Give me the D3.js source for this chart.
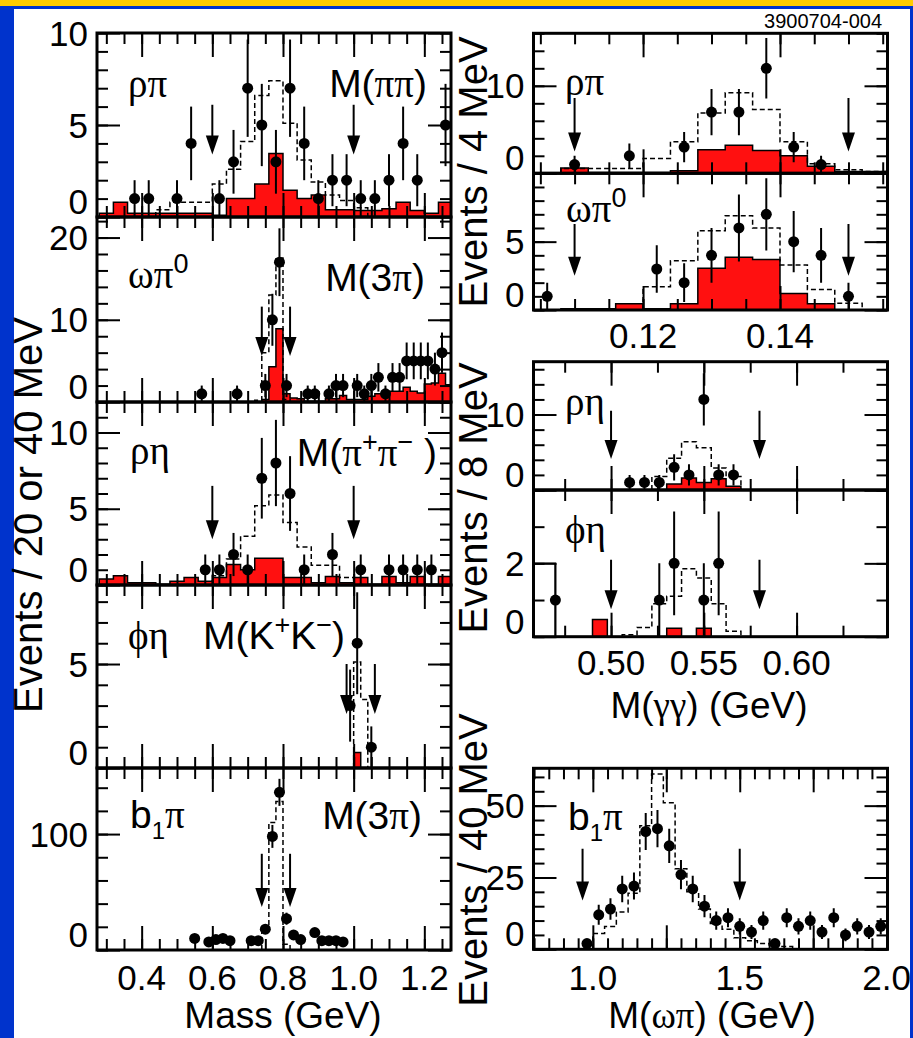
<!DOCTYPE html>
<html>
<head>
<meta charset="utf-8">
<script src="https://cdn.jsdelivr.net/npm/d3@7"></script>
<style>
body { margin: 0; background: #0033cc; }
svg { display: block; }
text { font-family: "Liberation Sans", Arial, sans-serif; fill: #000; }
</style>
</head>
<body>
<svg id="chart" width="913" height="1038"></svg>
<script>
// ---------- left column: resonance mass, 20 or 40 MeV bins ----------
// rho pi, M(pi pi)
const rhoPiX = [0.38,0.42,0.50,0.54,0.62,0.66,0.70,0.74,0.78,0.82,0.86,0.90,0.94,0.98,1.02,1.06,1.10,1.14,1.18,1.26]
const rhoPiN = [1,1,1,4,1,3,7,5,3,7,4,1,2,2,1,1,2,4,2,5]
const rhoPiRed = [0.2,0.8,0.2,0.2,0.2,0.2,0.2,0.2,0.1,1.0,1.0,1.8,3.45,1.45,1.0,1.2,0.4,0.4,0.35,0.35,0.45,0.8,0.35,0.2,0.8] // from 0.28, 40 MeV
const rhoPiMC = [0.4,0.8,0.8,0.8,1.8,2.6,4.1,6.6,7.4,5.1,3.1,1.9,1.2,0.9,0.5] // from 0.44, 40 MeV
const rhoPiCuts = [0.60, 1.00]

// omega pi0, M(3 pi)
const omegaPiX = [0.57,0.67,0.75,0.77,0.79,0.81,0.87,0.89,0.93,0.95,0.97,1.01,1.03,1.05,1.07,1.09,1.11,1.13,1.15,1.17,1.19,1.21,1.23,1.25]
const omegaPiN = [1,1,2,10,17,2,1,1,1,2,2,2,1,2,3,1,3,3,5,5,5,5,4,6]
const omegaPiRed = [0.3,4.3,8.9,1.0,0.5,0.4,0.1,0.1,0.1,0.4,0.4,0.8,0.3,0.3,0.3,0.7,1.0,1.3,1.3,1.3,1.8,1.3,1.1,2.2,2.3,3.5,2.1] // from 0.74, 20 MeV
const omegaPiMC = [0.2,6,13,17.5,0.3] // from 0.72, 20 MeV
const omegaPiCuts = [0.74, 0.82]

// rho eta, M(pi+ pi-)
const rhoEtaX = [0.58,0.62,0.66,0.70,0.74,0.78,0.82,0.86,0.94,1.02,1.10,1.14,1.18,1.22]
const rhoEtaN = [1,1,2,1,7,8,6,1,2,1,1,1,1,1]
const rhoEtaRed = [0.4,0.6,0.15,0.15,0.05,0.25,0.5,0.25,0.5,1.35,1.0,1.75,1.75,0.5,0.5,0.15,0.55,0.15,0.5,0.05,0.55,0.15,0.55,0.05,0.55] // from 0.28
const rhoEtaMC = [0.6,1.7,3.2,5.2,5.9,4.1,2.5,1.3,1.3,0.5] // from 0.60
const rhoEtaCuts = [0.60, 1.00]

// phi eta, M(K+ K-)
const phiEtaX = [0.99, 1.01, 1.05]
const phiEtaN = [3, 6, 1]
const phiEtaRed = [0.75] // from 1.00, 20 MeV
const phiEtaMC = [5.1, 3.3] // from 1.00, 20 MeV
const phiEtaCuts = [0.98, 1.06]

// b1 pi, M(3 pi)
const b1PiX = [0.55,0.59,0.61,0.63,0.65,0.71,0.73,0.75,0.77,0.79,0.81,0.83,0.85,0.89,0.91,0.93,0.95,0.97]
const b1PiN = [10,7,9,10,8,8,8,18,98,136,27,13,9,15,8,8,8,7]
const b1PiMC = [20,110,128,5] // from 0.74, 20 MeV
const b1PiCuts = [0.74, 0.82]

// ---------- right column: M(gamma gamma) and M(omega pi) ----------
const rhoPiGgX = [0.110,0.118,0.126,0.130,0.134,0.138,0.142,0.146]
const rhoPiGgN = [1,2,3,7,7,12,3,1]
const rhoPiGgRed = [0,0.6,0.1,0.1,0.1,0.3,2.7,3.2,2.6,2.0,0.8,0.2,0.2] // from 0.104, 4 MeV
const rhoPiGgMC = [0.55,0.55,0.55,1.7,3.6,6.9,9.2,7.3,3.6,1.1,0.4,0.2] // from 0.108
const pi0Cuts = [0.110, 0.150]

const omegaPiGgX = [0.106,0.122,0.126,0.130,0.134,0.138,0.142,0.146,0.150]
const omegaPiGgN = [1,3,2,4,6,7,5,4,1]
const omegaPiGgRed = [0,0.1,0.1,0.45,0.1,0.45,3.05,3.85,3.7,1.2,0.45,0,0] // from 0.104
const omegaPiGgMC = [1.7,3.6,5.8,6.9,6.0,3.3,1.5,0.5] // from 0.120

const rhoEtaGgX = [0.510,0.518,0.526,0.534,0.542,0.550,0.558,0.566]
const rhoEtaGgN = [1,1,1,3,2,12,2,2]
const rhoEtaGgRed = [0.8,1.6,1.0,1.5,0.5] // from 0.530, 8 MeV
const rhoEtaGgMC = [1.8,4.2,6.4,5.6,2.9,1.8] // from 0.522
const etaCuts = [0.50, 0.58]

const phiEtaGgX = [0.470,0.526,0.534,0.550,0.558]
const phiEtaGgN = [1,1,2,1,2]
const phiEtaGgRed = [0.47,0,0,0,0,0.23,0,0.23] // from 0.490
const phiEtaGgMC = [0.05,0.25,0.9,1.1,1.85,1.6,0.9,0.15] // from 0.506
const phiEtaGgSide = [2] // 0.450 - 0.470

const b1OmPiX = [0.98,1.02,1.06,1.10,1.14,1.18,1.22,1.26,1.30,1.34,1.38,1.42,1.46,1.50,1.54,1.58,1.62,1.66,1.70,1.74,1.78,1.82,1.86,1.90,1.94,1.98]
const b1OmPiN = [2,12,14,21,22,41,42,36,26,21,15,10,11,8,6,10,2,11,8,10,6,11,5,8,6,8]
const b1OmPiMC = [5.5,7.9,13,19.5,43,61,51,28,20,14,9,7,4,3,2,1.5,1] // from 1.00, 40 MeV
const b1OmPiCuts = [0.965, 1.50]

// ---------- drawing ----------
const svg = d3.select("#chart")
const greek = "'Liberation Serif', 'DejaVu Serif', serif"

svg.append("rect").attr("width", 913).attr("height", 1038).attr("fill", "#0033cc")
svg.append("rect").attr("width", 913).attr("height", 6).attr("fill", "#ffcc00")
svg.append("rect").attr("x", 14).attr("y", 9).attr("width", 896).attr("height", 1029).attr("fill", "#fff")

let clipN = 0

function tickVals(domain, step) {
    const a = Math.ceil(domain[0] / step - 1e-6), b = Math.floor(domain[1] / step + 1e-6)
    return d3.range(a, b + 1).map(i => +(i * step).toFixed(6))
}

function stepLine(lo, w, vals) {
    const pts = [[lo, 0]]
    vals.forEach((v, i) => pts.push([lo + i * w, v], [lo + (i + 1) * w, v]))
    pts.push([lo + vals.length * w, 0])
    return pts
}

function richText(xp, yp, parts, anchor, size) {
    const t = svg.append("text").attr("x", xp).attr("y", yp)
        .attr("font-size", size || 39).attr("text-anchor", anchor || "start")
    let shift = 0
    parts.forEach(([s, kind]) => {
        const ts = t.append("tspan").text(s)
        let target = 0
        if (kind === "sup") { target = -15; ts.attr("font-size", 27) }
        if (kind === "sub") { target = 11; ts.attr("font-size", 24) }
        if (kind === "g") ts.attr("font-family", greek)
        ts.attr("dy", target - shift)
        shift = target
    })
}

function addTicks(axis, transform, vals, len) {
    svg.append("g").attr("transform", transform)
        .call(axis.tickValues(vals).tickSize(-len).tickFormat(""))
        .call(s => s.select(".domain").remove())
        .selectAll("line").attr("stroke", "#000").attr("stroke-width", 2)
}

function drawPanel(p) {
    const x = d3.scaleLinear().domain(p.xDomain).range([p.left, p.right])
    const y = d3.scaleLinear().domain([0, p.yMax]).range([p.bottom, p.top])
    const line = d3.line().x(d => x(d[0])).y(d => y(d[1]))

    const id = "clip" + clipN++
    svg.append("clipPath").attr("id", id).append("rect")
        .attr("x", p.left).attr("y", p.top).attr("width", p.right - p.left).attr("height", p.bottom - p.top)
    const g = svg.append("g").attr("clip-path", `url(#${id})`)

    if (p.red) g.append("path").attr("d", line(stepLine(...p.red)))
        .attr("fill", "#ff1010").attr("stroke", "#000").attr("stroke-width", 1.5)
    if (p.side) g.append("path").attr("d", line(stepLine(...p.side)))
        .attr("fill", "none").attr("stroke", "#000").attr("stroke-width", 1.5)
    if (p.mc) g.append("path").attr("d", line(stepLine(...p.mc)))
        .attr("fill", "none").attr("stroke", "#000").attr("stroke-width", 1.5).attr("stroke-dasharray", "5,3")

    const pts = d3.zip(p.px, p.pn)
    g.selectAll(null).data(pts).join("line")
        .attr("x1", d => x(d[0])).attr("x2", d => x(d[0]))
        .attr("y1", d => y(d[1] - Math.sqrt(d[1]))).attr("y2", d => y(d[1] + Math.sqrt(d[1])))
        .attr("stroke", "#000").attr("stroke-width", 2)
    g.selectAll(null).data(pts).join("circle")
        .attr("cx", d => x(d[0])).attr("cy", d => y(d[1])).attr("r", 5.5).attr("fill", "#000")

    p.cuts.forEach(c => {
        const cx = x(c), tip = y(p.arrow[1])
        g.append("line").attr("x1", cx).attr("x2", cx).attr("y1", y(p.arrow[0])).attr("y2", tip - 4)
            .attr("stroke", "#000").attr("stroke-width", 2)
        g.append("path").attr("d", `M${cx - 6.5},${tip - 19}L${cx + 6.5},${tip - 19}L${cx},${tip}Z`).attr("fill", "#000")
    })

    // inward ticks on all four sides
    const xMinor = tickVals(p.xDomain, p.xTicks[0]), xMajor = tickVals(p.xDomain, p.xTicks[1])
    const yMinor = tickVals([0, p.yMax], p.yTicks[0]), yMajor = tickVals([0, p.yMax], p.yTicks[1])
    addTicks(d3.axisBottom(x), `translate(0,${p.bottom})`, xMinor, 11)
    addTicks(d3.axisBottom(x), `translate(0,${p.bottom})`, xMajor, 24)
    addTicks(d3.axisTop(x), `translate(0,${p.top})`, xMinor, 11)
    addTicks(d3.axisTop(x), `translate(0,${p.top})`, xMajor, 24)
    addTicks(d3.axisLeft(y), `translate(${p.left},0)`, yMinor, 11)
    addTicks(d3.axisLeft(y), `translate(${p.left},0)`, yMajor, 23)
    addTicks(d3.axisRight(y), `translate(${p.right},0)`, yMinor, 11)
    addTicks(d3.axisRight(y), `translate(${p.right},0)`, yMajor, 23)

    svg.append("rect").attr("x", p.left).attr("y", p.top)
        .attr("width", p.right - p.left).attr("height", p.bottom - p.top)
        .attr("fill", "none").attr("stroke", "#000").attr("stroke-width", 3)

    p.yLabels.forEach(v => {
        svg.append("text").attr("x", p.left - 9).attr("y", v === 0 ? p.bottom - 3 : y(v) + 12.5)
            .attr("text-anchor", "end").attr("font-size", 35).text(v)
    })
    if (p.xLabels) p.xLabels.forEach(v => {
        svg.append("text").attr("x", x(v)).attr("y", p.xLabelY)
            .attr("text-anchor", "middle").attr("font-size", 35).text(p.xFormat(v))
    })
    p.names.forEach(n => richText(n[0], n[1], n[2], n[3]))
}

const leftDomain = [0.2736, 1.2755]
const pionDomain = [0.104, 0.1557]
const etaDomain = [0.4582, 0.649]
const b1Domain = [0.798, 2.003]
const L = { xDomain: leftDomain, left: 97, right: 451, xTicks: [0.05, 0.2] }
const Rpi = { xDomain: pionDomain, left: 533.5, right: 887.5, xTicks: [0.005, 0.02] }
const Reta = { xDomain: etaDomain, left: 533.5, right: 887.5, xTicks: [0.025, 0.05] }

const panels = [
    { ...L, top: 33, bottom: 217, yMax: 10, yTicks: [1, 5], yLabels: [0, 5, 10],
      px: rhoPiX, pn: rhoPiN, red: [0.28, 0.04, rhoPiRed], mc: [0.44, 0.04, rhoPiMC],
      cuts: rhoPiCuts, arrow: [6.1, 3.4],
      names: [[128, 97, [["ρπ", "g"]]], [427, 97, [["M(", ""], ["ππ", "g"], [")", ""]], "end"]] },
    { ...L, top: 217, bottom: 402, yMax: 22.5, yTicks: [2, 10], yLabels: [0, 10, 20],
      px: omegaPiX, pn: omegaPiN, red: [0.74, 0.02, omegaPiRed], mc: [0.72, 0.02, omegaPiMC],
      cuts: omegaPiCuts, arrow: [11.6, 5.6],
      names: [[128, 288, [["ωπ", "g"], ["0", "sup"]]], [425, 291, [["M(3", ""], ["π", "g"], [")", ""]], "end"]] },
    { ...L, top: 402, bottom: 585, yMax: 12, yTicks: [1, 5], yLabels: [0, 5, 10],
      px: rhoEtaX, pn: rhoEtaN, red: [0.28, 0.04, rhoEtaRed], mc: [0.60, 0.04, rhoEtaMC],
      cuts: rhoEtaCuts, arrow: [6.5, 3.0],
      names: [[130, 464, [["ρη", "g"]]], [437, 466, [["M(", ""], ["π", "g"], ["+", "sup"], ["π", "g"], ["−", "sup"], [" )", ""]], "end"]] },
    { ...L, top: 585, bottom: 768, yMax: 8.8, yTicks: [1, 5], yLabels: [0, 5],
      px: phiEtaX, pn: phiEtaN, red: [1.00, 0.02, phiEtaRed], mc: [1.00, 0.02, phiEtaMC],
      cuts: phiEtaCuts, arrow: [5.0, 2.6],
      names: [[128, 649, [["ϕη", "g"]]], [203, 649, [["M(K", ""], ["+", "sup"], ["K", ""], ["−", "sup"], [")", ""]]]] },
    { ...L, top: 768, bottom: 950, yMax: 157, yTicks: [20, 100], yLabels: [0, 100],
      px: b1PiX, pn: b1PiN, mc: [0.74, 0.02, b1PiMC],
      cuts: b1PiCuts, arrow: [83, 37],
      xLabels: [0.4, 0.6, 0.8, 1.0, 1.2], xLabelY: 990, xFormat: d3.format(".1f"),
      names: [[130, 828, [["b", ""], ["1", "sub"], ["π", "g"]]], [422, 829, [["M(3", ""], ["π", "g"], [")", ""]], "end"]] },

    { ...Rpi, top: 33.3, bottom: 173.3, yMax: 16, yTicks: [2, 10], yLabels: [0, 10],
      px: rhoPiGgX, pn: rhoPiGgN, red: [0.104, 0.004, rhoPiGgRed], mc: [0.108, 0.004, rhoPiGgMC],
      cuts: pi0Cuts, arrow: [8.6, 2.5],
      names: [[565, 95, [["ρπ", "g"]]]] },
    { ...Rpi, top: 173.3, bottom: 310, yMax: 10, yTicks: [1, 5], yLabels: [0, 5],
      px: omegaPiGgX, pn: omegaPiGgN, red: [0.104, 0.004, omegaPiGgRed], mc: [0.120, 0.004, omegaPiGgMC],
      cuts: pi0Cuts, arrow: [6.3, 2.5],
      xLabels: [0.12, 0.14], xLabelY: 348, xFormat: d3.format(".2f"),
      names: [[566, 222, [["ωπ", "g"], ["0", "sup"]]]] },
    { ...Reta, top: 361.7, bottom: 490, yMax: 17, yTicks: [2, 10], yLabels: [0, 10],
      px: rhoEtaGgX, pn: rhoEtaGgN, red: [0.530, 0.008, rhoEtaGgRed], mc: [0.522, 0.008, rhoEtaGgMC],
      cuts: etaCuts, arrow: [10.5, 4.1],
      names: [[565, 415, [["ρη", "g"]]]] },
    { ...Reta, top: 490, bottom: 636.7, yMax: 4, yTicks: [1, 2], yLabels: [0, 2],
      px: phiEtaGgX, pn: phiEtaGgN, red: [0.490, 0.008, phiEtaGgRed], mc: [0.506, 0.008, phiEtaGgMC],
      side: [0.450, 0.020, phiEtaGgSide],
      cuts: etaCuts, arrow: [2.1, 0.75],
      xLabels: [0.50, 0.55, 0.60], xLabelY: 675, xFormat: d3.format(".2f"),
      names: [[565, 543, [["ϕη", "g"]]]] },
    { xDomain: b1Domain, left: 533.5, right: 887.5, xTicks: [0.05, 0.25],
      top: 768.3, bottom: 949.3, yMax: 63, yTicks: [5, 25], yLabels: [0, 25, 50],
      px: b1OmPiX, pn: b1OmPiN, mc: [1.00, 0.04, b1OmPiMC],
      cuts: b1OmPiCuts, arrow: [35, 17],
      xLabels: [1.0, 1.5, 2.0], xLabelY: 990, xFormat: d3.format(".1f"),
      names: [[568, 830, [["b", ""], ["1", "sub"], ["π", "g"]]]] }
]

panels.forEach(drawPanel)

// axis titles
richText(283, 1028, [["Mass (GeV)", ""]], "middle", 37)
richText(709, 718, [["M(", ""], ["γγ", "g"], [") (GeV)", ""]], "middle", 37)
richText(712, 1028, [["M(", ""], ["ωπ", "g"], [") (GeV)", ""]], "middle", 37)

const yTitles = [
    [42, 515, "Events / 20 or 40 MeV"],
    [487, 172, "Events / 4 MeV"],
    [487, 498, "Events / 8 MeV"],
    [487, 860, "Events / 40 MeV"]
]
yTitles.forEach(([tx, ty, s]) => {
    svg.append("text").attr("transform", `translate(${tx},${ty}) rotate(-90)`)
        .attr("text-anchor", "middle").attr("font-size", 40).text(s)
})

svg.append("text").attr("x", 882).attr("y", 28).attr("text-anchor", "end")
    .attr("font-size", 20).text("3900704-004")
</script>
</body>
</html>
